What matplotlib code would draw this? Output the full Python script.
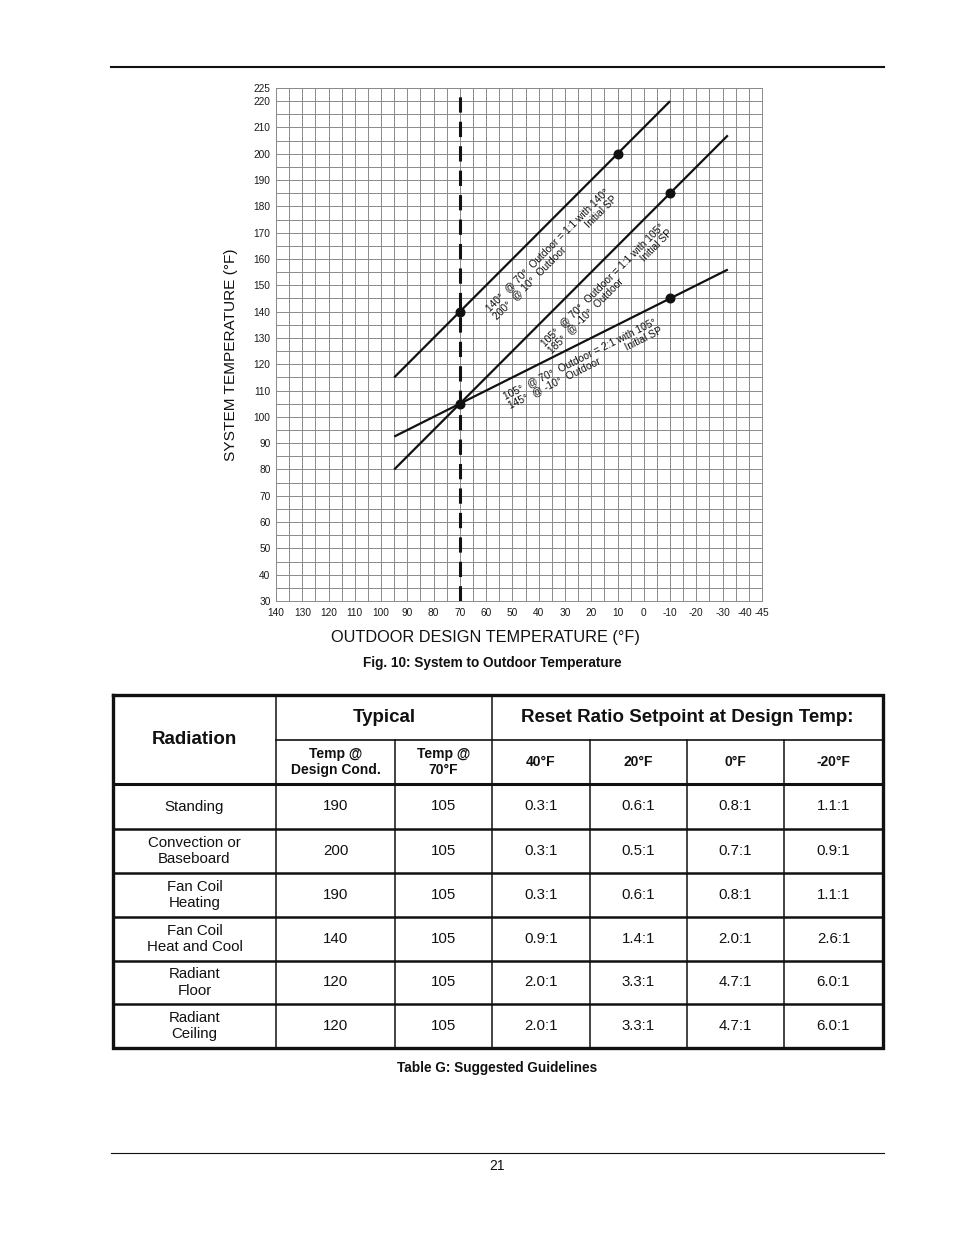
import numpy as np
import matplotlib
matplotlib.use('Agg')
import matplotlib.pyplot as plt
import matplotlib.transforms as mtransforms

plt.rcParams['font.family'] = ['Liberation Sans', 'DejaVu Sans']

# chart data
x_ticks = [140, 130, 120, 110, 100, 90, 80, 70, 60, 50, 40, 30, 20, 10, 0, -10, -20, -30, -40, -45]
y_ticks = [30, 40, 50, 60, 70, 80, 90, 100, 110, 120, 130, 140, 150, 160, 170, 180, 190, 200, 210, 220, 225]

line1_x = [95, -10]
line1_y = [115, 220]
line2_x = [95, -32]
line2_y = [80, 207]
line3_x = [95, -32]
line3_y = [92.5, 156]
dot_x = [70, 10, 70, -10, -10]
dot_y = [140, 200, 105, 185, 145]

# table data
radiation = ["Standing", "Convection or\nBaseboard", "Fan Coil\nHeating",
             "Fan Coil\nHeat and Cool", "Radiant\nFloor", "Radiant\nCeiling"]
temp_design = [190, 200, 190, 140, 120, 120]
temp_70 = [105, 105, 105, 105, 105, 105]
ratio_40 = ["0.3:1", "0.3:1", "0.3:1", "0.9:1", "2.0:1", "2.0:1"]
ratio_20 = ["0.6:1", "0.5:1", "0.6:1", "1.4:1", "3.3:1", "3.3:1"]
ratio_0 = ["0.8:1", "0.7:1", "0.8:1", "2.0:1", "4.7:1", "4.7:1"]
ratio_m20 = ["1.1:1", "0.9:1", "1.1:1", "2.6:1", "6.0:1", "6.0:1"]
design_temps = ["40°F", "20°F", "0°F", "-20°F"]

W, H = 954, 1235
fig = plt.figure(figsize=(W / 100, H / 100), dpi=100)

page = fig.add_axes([0, 0, 1, 1])
page.set_xlim(0, W)
page.set_ylim(H, 0)
page.axis('off')


def frac(l, t, r, b):
    return [l / W, 1 - b / H, (r - l) / W, (b - t) / H]


ax = fig.add_axes(frac(276, 88, 762, 601))
ax.set_xlim(140, -45)
ax.set_ylim(30, 225)
ax.set_xticks(np.arange(140, -46, -5), minor=True)
ax.set_yticks(np.arange(30, 226, 5), minor=True)
ax.set_xticks(x_ticks)
ax.set_xticklabels([str(v) for v in x_ticks])
ax.set_yticks(y_ticks)
ax.set_yticklabels([str(v) for v in y_ticks])
ax.tick_params(which='both', length=0, labelsize=7.3, colors='#1a1a1a')
ax.tick_params(axis='y', pad=4)
ax.tick_params(axis='x', pad=5)
ax.grid(which='both', color='#8a8a8a', lw=0.7)
ax.set_axisbelow(True)
for sp in ax.spines.values():
    sp.set_color('#8a8a8a')
    sp.set_linewidth(0.7)

# shift the crowded -40 label a little to the left
lab = ax.get_xticklabels()[x_ticks.index(-40)]
lab.set_transform(lab.get_transform() + mtransforms.ScaledTranslation(-4 / 100, 0, fig.dpi_scale_trans))

ax.axvline(70, color='#111111', lw=2.2, dashes=(5, 3), zorder=3)
for xs, ys in [(line1_x, line1_y), (line2_x, line2_y), (line3_x, line3_y)]:
    ax.plot(xs, ys, color='#111111', lw=1.6, zorder=4, solid_capstyle='butt')
ax.plot(dot_x, dot_y, 'o', color='#111111', ms=6.2, zorder=5)


def screen_angle(xs, ys):
    p = ax.transData.transform(np.column_stack([xs, ys]))
    return np.degrees(np.arctan2(p[1, 1] - p[0, 1], p[1, 0] - p[0, 0]))


labels = [
    (line1_x, line1_y, 61, 142.0,
     "140°  @ 70°  Outdoor = 1:1 with 140°\n200°  @ 10°  Outdoor           Initial SP"),
    (line2_x, line2_y, 40, 129.0,
     "105°  @ 70°  Outdoor = 1:1 with 105°\n185°  @ -10°  Outdoor          Initial SP"),
    (line3_x, line3_y, 54, 109.5,
     "105°  @ 70°  Outdoor = 2:1 with 105°\n145°  @ -10°  Outdoor          Initial SP"),
]
for xs, ys, tx, ty, s in labels:
    ax.text(tx, ty, s, rotation=screen_angle(xs, ys), rotation_mode='anchor',
            ha='left', va='top', fontsize=7.4, linespacing=1.05, color='#111111', zorder=6)

fig.text(231 / W, 1 - 355 / H, "SYSTEM TEMPERATURE (°F)", rotation=90,
         ha='center', va='center', fontsize=11.1, color='#111111')
fig.text(485 / W, 1 - 637 / H, "OUTDOOR DESIGN TEMPERATURE (°F)",
         ha='center', va='center', fontsize=11.7, color='#111111')
fig.text(492 / W, 1 - 663 / H, "Fig. 10: System to Outdoor Temperature",
         ha='center', va='center', fontsize=9.8, fontweight='bold', color='#111111')

# page rules
page.plot([111, 884], [67, 67], color='#111111', lw=1.5)
page.plot([111, 884], [1153, 1153], color='#111111', lw=0.8)
page.text(497, 1166, "21", ha='center', va='center', fontsize=10, color='#111111')

# table
cols = [113, 276, 395, 492, 590, 687, 784, 883]
rows = [695, 740, 784, 829, 873, 917, 961, 1004, 1048]
k = '#111111'
page.plot([cols[1], cols[-1]], [rows[1], rows[1]], color=k, lw=1.2)
page.plot([cols[0], cols[-1]], [rows[2], rows[2]], color=k, lw=2.2)
for y in rows[3:-1]:
    page.plot([cols[0], cols[-1]], [y, y], color=k, lw=1.8)
for x in [cols[1], cols[3]]:
    page.plot([x, x], [rows[0], rows[-1]], color=k, lw=1.1)
for x in [cols[2], cols[4], cols[5], cols[6]]:
    page.plot([x, x], [rows[1], rows[-1]], color=k, lw=1.1)
page.plot([cols[0], cols[-1], cols[-1], cols[0], cols[0]],
          [rows[0], rows[0], rows[-1], rows[-1], rows[0]], color=k, lw=2.4,
          solid_joinstyle='miter')

page.text((cols[0] + cols[1]) / 2, (rows[0] + rows[2]) / 2, "Radiation",
          ha='center', va='center', fontsize=13.5, fontweight='bold', color=k)
page.text((cols[1] + cols[3]) / 2, (rows[0] + rows[1]) / 2, "Typical",
          ha='center', va='center', fontsize=13.5, fontweight='bold', color=k)
page.text((cols[3] + cols[-1]) / 2, (rows[0] + rows[1]) / 2, "Reset Ratio Setpoint at Design Temp:",
          ha='center', va='center', fontsize=13.5, fontweight='bold', color=k)
sub = ["Temp @\nDesign Cond.", "Temp @\n70°F"] + design_temps
for i, s in enumerate(sub):
    page.text((cols[i + 1] + cols[i + 2]) / 2, (rows[1] + rows[2]) / 2, s,
              ha='center', va='center', fontsize=10, fontweight='bold', color=k, linespacing=1.15)

table_cols = [radiation, [str(v) for v in temp_design], [str(v) for v in temp_70],
              ratio_40, ratio_20, ratio_0, ratio_m20]
for j, col in enumerate(table_cols):
    for i, s in enumerate(col):
        page.text((cols[j] + cols[j + 1]) / 2, (rows[i + 2] + rows[i + 3]) / 2, s,
                  ha='center', va='center', fontsize=10.8, color=k, linespacing=1.2)

page.text(497, 1068, "Table G: Suggested Guidelines", ha='center', va='center',
          fontsize=9.8, fontweight='bold', color=k)

fig.savefig('out.png', dpi=100)
